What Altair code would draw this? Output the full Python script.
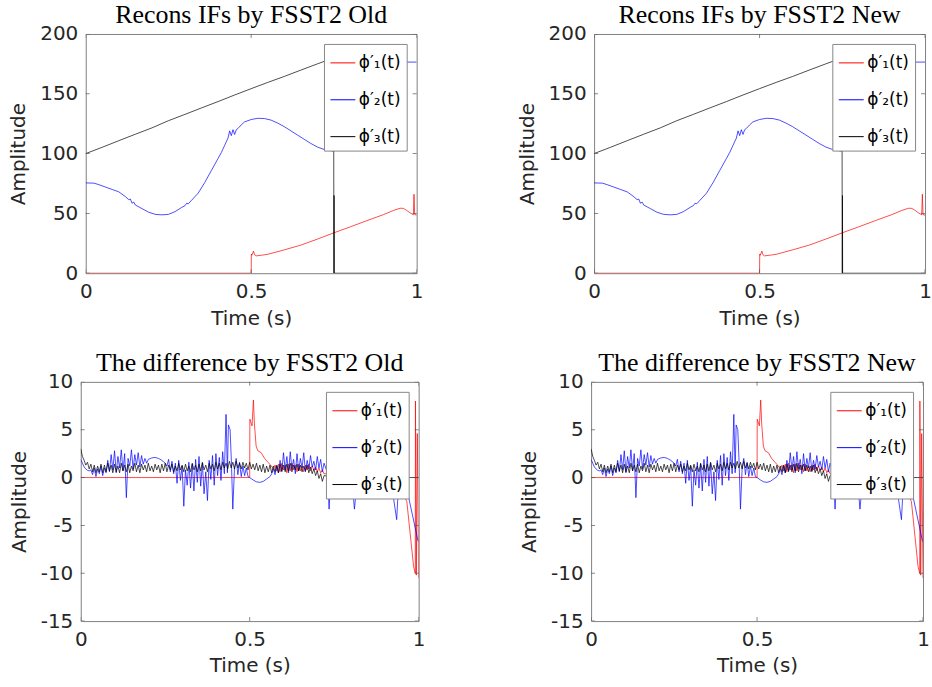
import altair as alt
import pandas as pd
import numpy as np

LABELS = ["ϕ′₁(t)", "ϕ′₂(t)", "ϕ′₃(t)"]
COLORS = ["#ff0000", "#0000ff", "#000000"]
X_TICKS = [0, 0.5, 1]
TOP_Y_TICKS = [0, 50, 100, 150, 200]
BOT_Y_TICKS = [-15, -10, -5, 0, 5, 10]

# ---------- top panels: reconstructed IFs ----------
if1_t = [0, 0.5, 0.5005, 0.502, 0.507, 0.51, 0.515, 0.53, 0.55, 0.6, 0.65, 0.7, 0.75, 0.8,
         0.85, 0.9, 0.93, 0.95, 0.96, 0.97, 0.98, 0.99, 0.992, 0.994, 1.0]
if1_v = [0, 0, 16, 15, 18.5, 15.5, 14.5, 15, 15.8, 19.5, 23.5, 28.5, 33.8, 38.8,
         44, 49, 52.5, 54.3, 54.2, 52.5, 50.5, 48.8, 66, 49, 48.5]

if2_t = [0, 0.025, 0.04, 0.06, 0.08, 0.1, 0.12, 0.13, 0.135, 0.14, 0.145, 0.15, 0.17, 0.19,
         0.21, 0.23, 0.25, 0.27, 0.29, 0.3, 0.305, 0.31, 0.32, 0.34, 0.36, 0.38, 0.4, 0.41,
         0.42, 0.43, 0.435, 0.44, 0.445, 0.45, 0.455, 0.46, 0.47, 0.48, 0.5, 0.52, 0.54,
         0.56, 0.58, 0.6, 0.62, 0.64, 0.66, 0.68, 0.7, 0.72, 0.749, 0.75, 0.8, 0.9, 1.0]
if2_v = [75.5, 75.3, 74, 72, 70, 68, 64, 61.5, 62, 58.5, 59.5, 57, 54, 51,
         49.2, 48.8, 49.2, 51.5, 55, 56.5, 58.5, 58, 61, 67, 76, 86, 96, 101,
         107, 113, 119, 115, 120, 116, 120, 121, 124, 126.5, 128.5, 129.5, 129.3,
         128, 125.5, 122.5, 119, 115.5, 112, 108.5, 105.5, 103.5, 102, 178, 177, 176.5, 176.5]

if3_t = [0, 0.05, 0.1, 0.15, 0.2, 0.25, 0.3, 0.35, 0.4, 0.45, 0.5, 0.55, 0.6, 0.65, 0.7,
         0.749, 0.75, 0.7505, 0.751, 1.0]
if3_v = [100, 105.3, 110.8, 116.2, 121.5, 127.5, 132.8, 138.2, 143.5, 149.0, 154.3, 159.5,
         164.5, 169.8, 175.0, 180.0, 0, 65, 0, 0]

# ---------- bottom panels: differences ----------
d1_t = [0, 0.5, 0.5005, 0.507, 0.511, 0.514, 0.519, 0.524, 0.534, 0.544, 0.554, 0.563, 0.57,
        0.575, 0.58, 0.585, 0.59, 0.595, 0.6, 0.605, 0.61, 0.615, 0.62, 0.625, 0.63, 0.635,
        0.64, 0.645, 0.65, 0.655, 0.66, 0.665, 0.67, 0.675, 0.68, 0.685, 0.69, 0.695, 0.7,
        0.705, 0.71, 0.715, 0.72, 0.8, 0.9, 0.95, 0.965, 0.985, 0.99, 0.9905, 0.993, 0.996, 1.0]
d1_v = [0, 0, 6.1, 5.4, 8.1, 5.6, 3.3, 2.8, 2.6, 2.0, 1.6, 1.25, 0.9,
        1.3, 0.7, 1.4, 0.6, 1.5, 0.8, 1.3, 0.5, 1.4, 0.7, 1.5, 0.8, 1.3,
        0.6, 1.4, 0.7, 1.2, 0.6, 1.3, 0.8, 1.4, 0.7, 1.2, 0.8, 1.1, 0.6,
        1.0, 0.5, 0.8, 0.4, 0.3, -0.5, -1.5, -2.5, -9.3, -10.0, 8.0, -10.2, 4.6, -10.5]

d2_t = [0, 0.005, 0.01, 0.015, 0.02, 0.025, 0.03, 0.035, 0.04, 0.045, 0.05, 0.055, 0.06,
        0.065, 0.07, 0.075, 0.08, 0.085, 0.09, 0.095, 0.1, 0.105, 0.11, 0.115, 0.12, 0.125,
        0.13, 0.135, 0.14, 0.145, 0.15, 0.155, 0.16, 0.165, 0.17, 0.175, 0.18, 0.185, 0.19,
        0.195, 0.2, 0.21, 0.22, 0.23, 0.24, 0.25, 0.255, 0.26, 0.265, 0.27, 0.275, 0.28,
        0.285, 0.29, 0.295, 0.3, 0.305, 0.31, 0.315, 0.32, 0.325, 0.33, 0.335, 0.34, 0.345,
        0.35, 0.355, 0.36, 0.365, 0.37, 0.375, 0.38, 0.385, 0.39, 0.395, 0.4, 0.405, 0.41,
        0.415, 0.42, 0.425, 0.43, 0.434, 0.437, 0.442, 0.446, 0.45, 0.455, 0.46, 0.465, 0.47,
        0.475, 0.48, 0.485, 0.49, 0.495, 0.5, 0.51, 0.52, 0.53, 0.54, 0.55, 0.56, 0.565,
        0.57, 0.575, 0.58, 0.585, 0.59, 0.595, 0.6, 0.605, 0.61, 0.615, 0.62, 0.625, 0.63,
        0.635, 0.64, 0.645, 0.65, 0.655, 0.66, 0.665, 0.67, 0.675, 0.68, 0.685, 0.69, 0.695,
        0.7, 0.705, 0.71, 0.715, 0.72, 0.73, 0.735, 0.74, 0.76, 0.78, 0.8, 0.81, 0.82, 0.85,
        0.88, 0.9, 0.92, 0.935, 0.94, 0.96, 0.97, 0.998, 1.0]
d2_v = [1.9, 1.5, 1.1, 0.9, 0.75, 0.7, 0.8, 0.3, 1.0, 0.1, 0.9, 0.4, 1.2,
        0.2, 1.0, 0.5, 1.8, 0.6, 2.4, 0.8, 2.8, 0.5, 2.2, 1.0, 2.9, 0.7,
        2.5, -2.1, 2.0, 1.2, 2.9, 0.9, 2.4, 1.3, 2.6, 1.1, 2.3, 1.4, 2.0,
        1.5, 1.9, 2.05, 2.1, 2.0, 1.8, 1.5, 1.2, 1.9, 0.6, 1.7, 0.4, 1.5,
        -0.6, 1.8, -0.3, 1.2, -3.0, 0.8, -0.8, 1.6, -1.1, 1.4, -1.4, 1.9, -0.5,
        2.2, -0.9, 1.5, -1.7, 0.6, -2.4, 1.8, -0.2, 2.3, -0.8, 2.5, 0.2, 2.1,
        -0.3, 2.7, 0.4, 6.6, 0.5, 5.5, 5.0, 1.5, -3.3, 1.0, 2.0, 0.3, 1.6,
        0.1, 1.2, 0.2, 1.0, 0.1, 0.0, -0.25, -0.45, -0.5, -0.4, -0.15, 0.1, 0.4,
        0.9, 0.3, 1.2, 0.5, 1.8, 0.6, 2.6, 0.8, 2.2, 0.5, 2.7, 0.9, 1.9,
        0.4, 2.5, 0.7, 2.0, 1.0, 2.6, 0.6, 1.8, 0.9, 2.3, 1.1, 1.7, 0.8,
        2.2, 1.0, 1.9, 0.6, 1.5, 0.5, -3.3, 0.5, 1.0, 0.3, 0.8, -3.3, 0.5, 0.3,
        0.0, -0.5, -0.8, -4.4, -1.0, -1.5, -2.0, -6.6, -6.7]

d3_noise_v = [3.0, 2.2, 1.8, 1.3, 1.6, 0.9, 1.4, 0.6, 1.3, 0.5, 1.2, 0.6, 1.4, 0.5, 1.3, 0.6,
              1.5, 0.7, 1.3, 0.5, 1.4, 0.6, 1.2, 0.5, 1.5, 0.7, 1.3, 0.6, 1.4, 0.5, 1.2, 0.7,
              1.5, 0.6, 1.3, 0.5, 1.4, 0.8, 1.3, 0.6, 1.5, 0.7, 1.2, 0.6, 1.4, 0.8, 1.3, 0.5,
              1.4, 0.7, 1.5, 0.6, 1.3, 0.8, 1.4, 0.6, 1.2, 0.7, 1.5, 0.8, 1.3, 0.6, 1.4, 0.7,
              1.2, 0.6, 1.5, 0.8, 1.3, 0.6, 1.4, 0.7, 1.6, 0.8, 1.3, 0.6, 1.5, 0.9, 1.4, 0.7,
              1.6, 0.9, 1.5, 0.8, 1.6, 1.0, 1.5, 0.9, 1.7, 1.0, 1.6, 0.9, 1.7, 1.0, 1.5, 0.9,
              1.6, 1.0, 1.5, 0.8, 1.6, 0.9, 1.4, 0.8, 1.5, 0.7, 1.3, 0.6, 1.4, 0.5, 1.2, 0.6,
              1.3, 0.5, 1.2, 0.6, 1.3, 0.5, 1.4, 0.7, 1.3, 0.6, 1.4, 0.7, 1.5, 0.6, 1.3, 0.8,
              1.4, 0.7, 1.3, 0.6, 1.2, 0.7, 1.3, 0.5, 1.1, 0.4, 0.9, 0.2, 0.7, -0.1, 0.4, -0.4,
              0.2]
d3_noise_t = list(np.round(np.arange(len(d3_noise_v)) * 0.005, 3))
d3_t = d3_noise_t + [0.74, 0.8, 0.9, 1.0]
d3_v = d3_noise_v + [0.1, 0.0, 0.0, 0.0]


def long_df(series):
    frames = []
    for name, t, v in series:
        frames.append(pd.DataFrame({"t": t, "v": v, "series": name}))
    return pd.concat(frames, ignore_index=True)


top_df = long_df([(LABELS[0], if1_t, if1_v), (LABELS[1], if2_t, if2_v), (LABELS[2], if3_t, if3_v)])
bot_df = long_df([(LABELS[0], d1_t, d1_v), (LABELS[1], d2_t, d2_v), (LABELS[2], d3_t, d3_v)])

AX = "#555555"


def panel(title, df, ydom, yticks, width):
    xs = alt.Scale(domain=[0, 1], nice=False, zero=False)
    ys = alt.Scale(domain=ydom, nice=False, zero=False)
    xaxis = alt.Axis(values=X_TICKS, title="Time (s)", labelExpr="'' + datum.value",
                     labelFlush=False, labelPadding=8, titlePadding=7)
    yaxis = alt.Axis(values=yticks, title="Amplitude", labelExpr="'' + datum.value",
                     labelPadding=8, titlePadding=11)
    lines = alt.Chart(df).mark_line(strokeWidth=0.7, clip=True).encode(
        x=alt.X("t:Q", scale=xs, axis=xaxis),
        y=alt.Y("v:Q", scale=ys, axis=yaxis),
        color=alt.Color("series:N", scale=alt.Scale(domain=LABELS, range=COLORS),
                        legend=alt.Legend(title=None, orient="top-right", offset=10,
                                          fillColor="white", strokeColor="#888888",
                                          padding=6, labelFontSize=17, labelFont="DejaVu Sans",
                                          labelColor="#000000", symbolType="stroke",
                                          symbolSize=625, symbolStrokeWidth=1,
                                          rowPadding=16, labelOffset=3)),
    )
    xt = alt.Chart(pd.DataFrame({"t": X_TICKS})).mark_tick(
        orient="vertical", size=8, thickness=1, color=AX, clip=True)
    yt = alt.Chart(pd.DataFrame({"v": yticks})).mark_tick(
        orient="horizontal", size=8, thickness=1, color=AX, clip=True)
    layers = [
        lines,
        xt.encode(x=alt.X("t:Q", scale=xs, axis=xaxis), y=alt.datum(ydom[1])),
        xt.encode(x=alt.X("t:Q", scale=xs, axis=xaxis), y=alt.datum(ydom[0])),
        yt.encode(y=alt.Y("v:Q", scale=ys, axis=yaxis), x=alt.datum(0)),
        yt.encode(y=alt.Y("v:Q", scale=ys, axis=yaxis), x=alt.datum(1)),
    ]
    return alt.layer(*layers).properties(width=width, height=240, title=title)


def spacer():
    return alt.Chart(pd.DataFrame({"a": [0]})).mark_point(
        size=0, opacity=0, strokeWidth=0
    ).encode(
        x=alt.value(0), y=alt.value(0)
    ).properties(width=1, height=1, view=alt.ViewBackground(strokeOpacity=0))


tl = panel("Recons IFs by FSST2 Old", top_df, [0, 200], TOP_Y_TICKS, 332)
tr = panel("Recons IFs by FSST2 New", top_df, [0, 200], TOP_Y_TICKS, 332)
bl = panel("The difference by FSST2 Old", bot_df, [-15, 10], BOT_Y_TICKS, 339)
br = panel("The difference by FSST2 New", bot_df, [-15, 10], BOT_Y_TICKS, 333)

IND = dict(color="independent", x="independent", y="independent")

row1 = alt.hconcat(
    alt.hconcat(spacer(), tl, spacing=0).resolve_scale(**IND).resolve_legend(color="independent"),
    tr, spacing=93
).resolve_scale(**IND).resolve_legend(color="independent")
row2 = alt.hconcat(
    alt.hconcat(spacer(), bl, spacing=0).resolve_scale(**IND).resolve_legend(color="independent"),
    br, spacing=93
).resolve_scale(**IND).resolve_legend(color="independent")

chart = alt.vconcat(row1, row2, spacing=20).resolve_scale(**IND).resolve_legend(
    color="independent"
).properties(
    padding={"left": 7, "top": 0, "right": 0, "bottom": 0},
    background="white",
).configure_view(
    stroke="#808080", strokeWidth=1
).configure_axis(
    grid=False, ticks=False, domain=False,
    labelFontSize=20, labelFont="DejaVu Sans", labelColor="#262626",
    titleFontSize=20, titleFont="DejaVu Sans", titleFontWeight="normal", titleColor="#262626"
).configure_title(
    font="Liberation Serif", fontSize=26, fontWeight="normal", color="#000000", offset=-4
)

chart.save("out.html", embed_options={"renderer": "svg", "actions": False})
